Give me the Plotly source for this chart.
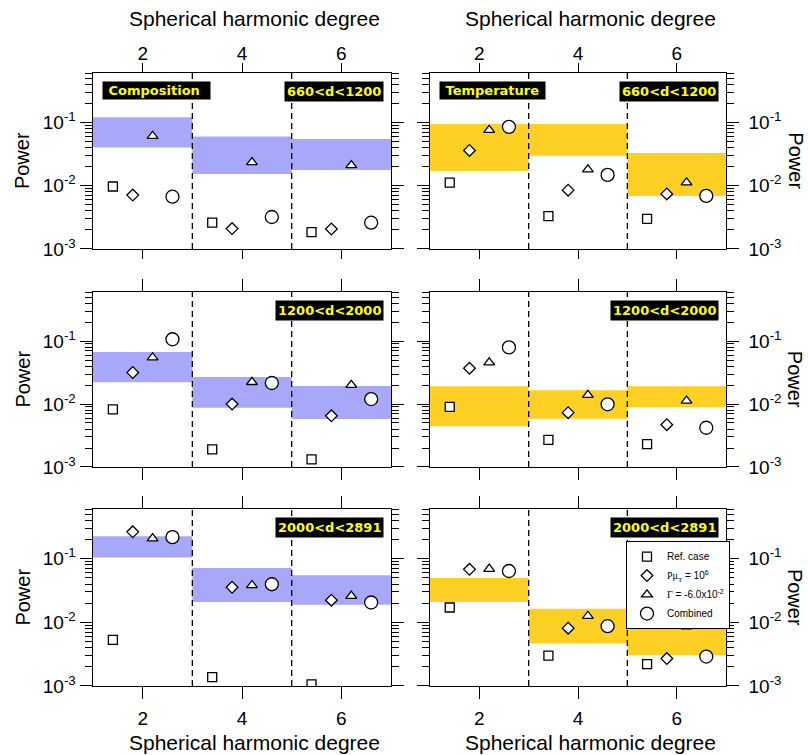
import plotly.graph_objects as go

# ---------------- data ----------------
degrees = [2, 4, 6]
case_names = ["Ref. case",
              "<span style='font-family:Liberation Serif'>Pμ<sub>T</sub></span> = 10<sup>6</sup>",
              "<span style='font-family:Liberation Serif'>Γ</span> = -6.0x10<sup>-2</sup>",
              "Combined"]
field_names = ["Composition", "Temperature"]
depth_labels = ["660&lt;d&lt;1200", "1200&lt;d&lt;2000", "2000&lt;d&lt;2891"]
x_tick_labels = ["2", "4", "6"]
y_major_vals = [1e-3, 1e-2, 1e-1]
y_major_text = ["10<sup>-3</sup>", "10<sup>-2</sup>", "10<sup>-1</sup>"]
y_minor_vals = ([k * 1e-3 for k in range(2, 10)] + [k * 1e-2 for k in range(2, 10)]
                + [k * 1e-1 for k in range(2, 7)])

# Composition: rows = depth ranges, cols = degree 2,4,6
comp_band_lo = [[0.040, 0.0153, 0.0177], [0.0221, 0.0087, 0.0058], [0.104, 0.0208, 0.0189]]
comp_band_hi = [[0.120, 0.060, 0.0546], [0.067, 0.0268, 0.0193], [0.226, 0.0714, 0.055]]
comp_ref = [[0.0097, 0.0026, 0.00185], [0.0082, 0.0019, 0.00132], [0.0053, 0.00138, 0.00106]]
comp_visc = [[0.0071, 0.0021, 0.00207], [0.0317, 0.0100, 0.0065], [0.264, 0.0356, 0.0223]]
comp_clap = [[0.061, 0.0234, 0.021], [0.055, 0.0223, 0.020], [0.208, 0.0383, 0.026]]
comp_comb = [[0.0067, 0.0032, 0.0026], [0.107, 0.0216, 0.012], [0.218, 0.0397, 0.0205]]

# Temperature
temp_band_lo = [[0.0171, 0.0298, 0.0069], [0.00443, 0.00583, 0.0089], [0.0208, 0.00464, 0.00305]]
temp_band_hi = [[0.094, 0.094, 0.0329], [0.0191, 0.0165, 0.0191], [0.0499, 0.0164, 0.0109]]
temp_ref = [[0.0112, 0.0033, 0.0030], [0.0090, 0.0027, 0.0023], [0.0171, 0.0030, 0.0022]]
temp_visc = [[0.036, 0.0085, 0.0074], [0.037, 0.0073, 0.0047], [0.068, 0.0081, 0.0027]]
temp_clap = [[0.0757, 0.018, 0.0112], [0.0456, 0.0139, 0.0113], [0.069, 0.0126, 0.0086]]
temp_comb = [[0.085, 0.0148, 0.0069], [0.0795, 0.0099, 0.0042], [0.064, 0.0087, 0.0029]]

# ---------------- style ----------------
FONT = "Liberation Sans"
LABEL_FONT = "DejaVu Sans"
NB = "\u00a0"
band_colors = ["#a8a8fa", "#fdd023"]
symbols = ["square", "diamond", "triangle-up", "circle"]
sizes = [9, 9, 9.5, 13]
offsets = [-0.6, -0.2, 0.2, 0.6]
half_bin = 1.0
field_label_pad = [NB, NB]
field_label_tail = [NB + NB, NB]

x_domains = [[0.0, 0.4708], [0.5324, 1.0]]
y_domains = [[0.7129, 1.0], [0.3573, 0.6427], [0.0, 0.2887]]
y_range = [-3, -0.22]

bands = {0: (comp_band_lo, comp_band_hi), 1: (temp_band_lo, temp_band_hi)}
points = {0: [comp_ref, comp_visc, comp_clap, comp_comb],
          1: [temp_ref, temp_visc, temp_clap, temp_comb]}

fig = go.Figure()
shapes = []
annotations = []
layout_axes = {}

for r in range(3):
    for c in range(2):
        p = r * 2 + c + 1
        xa = "x" if p == 1 else f"x{p}"
        ya = "y" if p == 1 else f"y{p}"
        ya_minor = f"y{p + 6}"
        lo, hi = bands[c]
        bx, by = [], []
        for i, d in enumerate(degrees):
            bx += [d - half_bin, d + half_bin, d + half_bin, d - half_bin, d - half_bin, None]
            by += [lo[r][i], lo[r][i], hi[r][i], hi[r][i], lo[r][i], None]
        fig.add_trace(go.Scatter(x=bx, y=by, mode="lines", fill="toself",
                                 fillcolor=band_colors[c], line=dict(width=0),
                                 hoverinfo="skip", showlegend=False,
                                 xaxis=xa, yaxis=ya))
        for k, series in enumerate(points[c]):
            fig.add_trace(go.Scatter(
                x=[d + offsets[k] for d in degrees], y=series[r],
                mode="markers", name=case_names[k],
                marker=dict(symbol=symbols[k], size=sizes[k], color="white",
                            line=dict(color="black", width=1.3)),
                showlegend=(p == 1), legendrank=k,
                xaxis=xa, yaxis=ya, cliponaxis=True))
        # empty trace so the overlaid minor-tick axis is drawn
        fig.add_trace(go.Scatter(x=[None], y=[None], mode="markers", showlegend=False,
                                 hoverinfo="skip", xaxis=xa, yaxis=ya_minor))
        # dashed separators between degree bins
        for d in degrees[:-1]:
            shapes.append(dict(type="line", xref=xa, yref=f"{ya} domain",
                               x0=d + half_bin, x1=d + half_bin, y0=0, y1=1,
                               line=dict(color="black", width=1.3, dash="6px,4px"),
                               layer="above"))
        # axes
        xkey = "xaxis" if p == 1 else f"xaxis{p}"
        ykey = "yaxis" if p == 1 else f"yaxis{p}"
        layout_axes[xkey] = dict(
            domain=x_domains[c], anchor=ya, range=[1, 7],
            tickmode="array", tickvals=degrees, ticktext=x_tick_labels,
            ticks="outside", ticklen=9 if r == 0 else 12, tickwidth=1.4, tickcolor="black",
            showline=True, linecolor="black", linewidth=1.3, mirror="allticks",
            showgrid=False, zeroline=False,
            side="top" if r == 0 else "bottom",
            showticklabels=(r != 1),
            tickfont=dict(family=FONT, size=19, color="black"),
            ticklabelstandoff=-5 if r == 0 else 3,
        )
        if c == 0:
            major_text = [t + NB for t in y_major_text]
        else:
            major_text = [NB + NB + t for t in y_major_text]
        layout_axes[ykey] = dict(
            domain=y_domains[r], anchor=xa, type="log", range=y_range,
            tickmode="array", tickvals=y_major_vals, ticktext=major_text,
            ticks="outside", ticklen=12, tickwidth=1.4, tickcolor="black",
            showline=True, linecolor="black", linewidth=1.3, mirror="allticks",
            showgrid=False, zeroline=False,
            side="left" if c == 0 else "right",
            tickfont=dict(family=FONT, size=19, color="black"),
            ticklabelstandoff=-5,
        )
        # overlaid axis carrying the short minor ticks
        layout_axes[f"yaxis{p + 6}"] = dict(
            overlaying=ya, anchor=xa, type="log", range=y_range,
            tickmode="array", tickvals=y_minor_vals, showticklabels=False,
            ticks="outside", ticklen=7, tickwidth=1.4, tickcolor="black",
            showline=True, linecolor="black", linewidth=1.3, mirror="allticks",
            showgrid=False, zeroline=False,
            side="left" if c == 0 else "right",
        )
        # panel labels
        if r == 0:
            annotations.append(dict(
                xref=f"{xa} domain", yref=f"{ya} domain", x=0, y=1,
                xanchor="left", yanchor="top", xshift=9, yshift=-8,
                text="<b>" + field_label_pad[c] + field_names[c] + field_label_tail[c] + "</b>",
                showarrow=False, bgcolor="black", borderpad=1,
                font=dict(family=LABEL_FONT, size=13, color="#ffff00")))
        annotations.append(dict(
            xref=f"{xa} domain", yref=f"{ya} domain", x=1, y=1,
            xanchor="right", yanchor="top", xshift=-7, yshift=-8,
            text="<b>" + depth_labels[r] + "</b>", showarrow=False,
            bgcolor="black", borderpad=2,
            font=dict(family=LABEL_FONT, size=13, color="#ffff00")))
        # Power labels
        yc = (y_domains[r][0] + y_domains[r][1]) / 2
        annotations.append(dict(
            xref="paper", yref="paper", x=-0.112 if c == 0 else 1.110, y=yc,
            xanchor="center", yanchor="middle", text="Power", showarrow=False,
            textangle=-90 if c == 0 else 90,
            font=dict(family=FONT, size=20, color="black")))

# x axis titles
for c in range(2):
    xc = (x_domains[c][0] + x_domains[c][1]) / 2 + 0.019
    annotations.append(dict(xref="paper", yref="paper", x=xc, y=1.0897,
                            xanchor="center", yanchor="middle",
                            text="Spherical harmonic degree", showarrow=False,
                            font=dict(family=FONT, size=21, color="black")))
    annotations.append(dict(xref="paper", yref="paper", x=xc, y=-0.0914,
                            xanchor="center", yanchor="middle",
                            text="Spherical harmonic degree", showarrow=False,
                            font=dict(family=FONT, size=21, color="black")))

fig.update_layout(
    width=808, height=755,
    margin=dict(l=93, r=82, t=73, b=69),
    paper_bgcolor="white", plot_bgcolor="white",
    shapes=shapes, annotations=annotations,
    showlegend=True,
    legend=dict(x=0.8420, y=0.2365, xanchor="left", yanchor="top",
                bgcolor="white", bordercolor="black", borderwidth=1,
                font=dict(family=FONT, size=10, color="black"),
                itemwidth=30, tracegroupgap=0),
    **layout_axes,
)

fig.write_html("out.html")
